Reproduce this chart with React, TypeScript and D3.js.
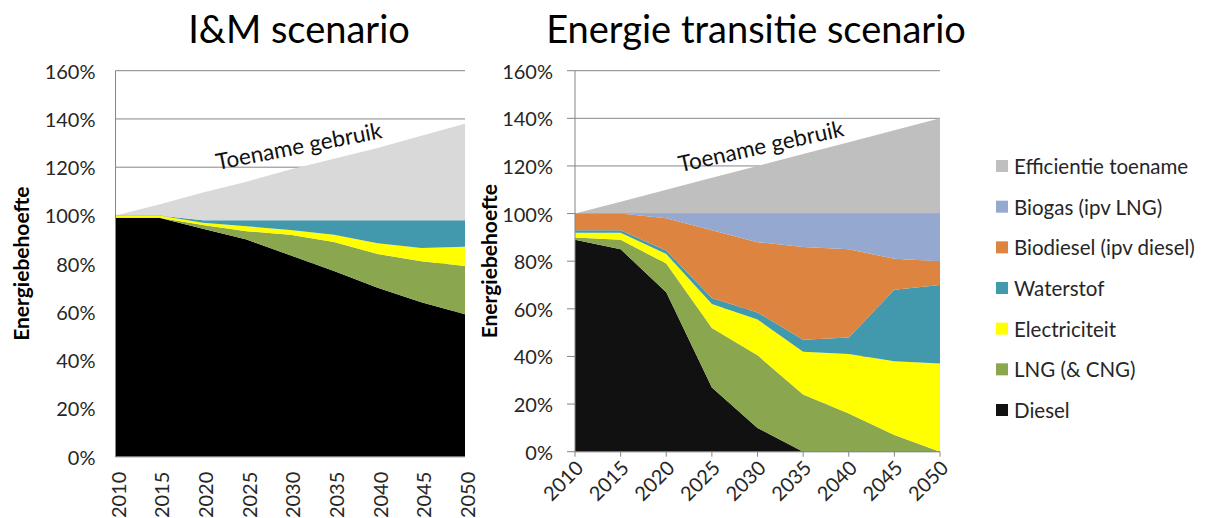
import React from 'react';
import * as d3 from 'd3';

// years on the x axis
const years = [2010, 2015, 2020, 2025, 2030, 2035, 2040, 2045, 2050];
const yTicks = [0, 20, 40, 60, 80, 100, 120, 140, 160];

const seriesKeys = ['diesel', 'lng', 'elec', 'waterstof', 'biodiesel', 'biogas', 'eff'];
const seriesNames = {
  eff: 'Efficientie toename',
  biogas: 'Biogas (ipv LNG)',
  biodiesel: 'Biodiesel (ipv diesel)',
  waterstof: 'Waterstof',
  elec: 'Electriciteit',
  lng: 'LNG (& CNG)',
  diesel: 'Diesel'
};
const legendOrder = ['eff', 'biogas', 'biodiesel', 'waterstof', 'elec', 'lng', 'diesel'];

// I&M scenario (percent of 2010 energy demand)
const imDiesel = [99, 99, 94.5, 90, 83.5, 77, 70, 64, 59];
const imLng = [0, 0, 1.5, 3.5, 8.5, 12, 14, 17, 20];
const imElec = [1, 1, 1, 2, 2, 3, 4.5, 5.5, 8];
const imWaterstof = [0, 0, 1, 2.5, 4, 6, 9.5, 11.5, 11];
const imBiodiesel = [0, 0, 0, 0, 0, 0, 0, 0, 0];
const imBiogas = [0, 0, 0, 0, 0, 0, 0, 0, 0];
const imEff = [0, 4.5, 11.5, 16, 21, 25.5, 30, 35, 40];

// Energie transitie scenario
const etDiesel = [89, 85, 67, 27, 10, 0, 0, 0, 0];
const etLng = [1, 4, 12, 25, 30.5, 24, 16, 7, 0];
const etElec = [2, 3, 4, 10, 15, 18, 25, 31, 37];
const etWaterstof = [1, 1, 1.5, 2.5, 3, 5, 7, 30, 33];
const etBiodiesel = [7, 7, 13.5, 28.5, 29.5, 39, 37, 13, 10];
const etBiogas = [0, 0, 2, 7, 12, 14, 15, 19, 20];
const etEff = [0, 5, 10, 15, 20, 25, 30, 35, 40];

const colors = {
  diesel: '#111111',
  lng: '#8aa64e',
  elec: '#ffff00',
  waterstof: '#4299ae',
  biodiesel: '#dc8440',
  biogas: '#95a8d0',
  eff: '#bfbfbf'
};

const font = 'Lato, "Open Sans", sans-serif';
const textColor = '#262626';
const gridColor = '#868686';

function buildRows(cols) {
  return years.map((yr, i) => {
    const row = { year: yr };
    seriesKeys.forEach(k => { row[k] = cols[k][i]; });
    return row;
  });
}

const imRows = buildRows({
  diesel: imDiesel, lng: imLng, elec: imElec, waterstof: imWaterstof,
  biodiesel: imBiodiesel, biogas: imBiogas, eff: imEff
});
const etRows = buildRows({
  diesel: etDiesel, lng: etLng, elec: etElec, waterstof: etWaterstof,
  biodiesel: etBiodiesel, biogas: etBiogas, eff: etEff
});

function Panel({ rows, left, right, bottom, top, title, titleX, variant }) {
  const x = d3.scaleLinear().domain([2010, 2050]).range([left, right]);
  const y = d3.scaleLinear().domain([0, 160]).range([bottom, top]);
  const stack = d3.stack().keys(seriesKeys);
  const layers = stack(rows);
  const area = d3
    .area()
    .x(d => x(d.data.year))
    .y0(d => y(d[0]))
    .y1(d => y(d[1]));

  const fills = variant === 'im'
    ? { ...colors, diesel: '#000000', eff: '#d9d9d9' }
    : colors;

  const tickLen = variant === 'im' ? 0 : 8;
  // label for the growth, placed along the top of the grey area
  const lx = variant === 'im' ? x(2030) + 10 : x(2030) + 5;
  const ly = variant === 'im' ? y(125.5) : y(125);
  const angle = variant === 'im' ? -11 : -12.5;

  return (
    <g>
      <text x={titleX} y={43} textAnchor="middle" fontSize={38} fill="#000" fontFamily={font}>
        {title}
      </text>
      {yTicks.map(t => (
        <line key={'g' + t} x1={left - tickLen} x2={right} y1={y(t)} y2={y(t)} stroke={gridColor} strokeWidth={1} />
      ))}
      {layers.map(layer => (
        <path key={layer.key} d={area(layer)} fill={fills[layer.key]} stroke="none" />
      ))}
      <line x1={left} x2={left} y1={top} y2={bottom} stroke={gridColor} strokeWidth={1} />
      <line x1={left} x2={right} y1={bottom} y2={bottom} stroke={gridColor} strokeWidth={1} />
      {yTicks.map(t => (
        <text
          key={'t' + t}
          x={left - (variant === 'im' ? 20 : 22)}
          y={y(t)}
          textAnchor="end"
          dominantBaseline="central"
          fontSize={20}
          fill={textColor}
          fontFamily={font}
        >
          {t + '%'}
        </text>
      ))}
      {variant !== 'im' && years.map(yr => (
        <line key={'xt' + yr} x1={x(yr)} x2={x(yr)} y1={bottom} y2={bottom + 5} stroke={gridColor} strokeWidth={1} />
      ))}
      {years.map(yr => (
        variant === 'im' ? (
          <text
            key={'x' + yr}
            transform={`translate(${x(yr) + 2},${bottom + 15}) rotate(-90)`}
            textAnchor="end"
            dominantBaseline="central"
            fontSize={20}
            fill={textColor}
            fontFamily={font}
          >
            {yr}
          </text>
        ) : (
          <text
            key={'x' + yr}
            transform={`translate(${x(yr) + 4},${bottom + 12}) rotate(-45)`}
            textAnchor="end"
            dominantBaseline="central"
            fontSize={20}
            fill={textColor}
            fontFamily={font}
          >
            {yr}
          </text>
        )
      ))}
      <text
        transform={`translate(${variant === 'im' ? 20 : 488},${(top + bottom) / 2}) rotate(-90)`}
        textAnchor="middle"
        dominantBaseline="central"
        fontSize={21}
        fontWeight="bold"
        fill="#000"
        fontFamily={font}
      >
        Energiebehoefte
      </text>
      <text
        transform={`translate(${lx},${ly}) rotate(${angle})`}
        textAnchor="middle"
        fontSize={22.5}
        fill="#111"
        fontFamily={font}
      >
        Toename gebruik
      </text>
    </g>
  );
}

function Legend() {
  const rowY = d3.scalePoint().domain(legendOrder).range([166, 410]);
  return (
    <g>
      {legendOrder.map(k => (
        <g key={k} transform={`translate(996,${rowY(k)})`}>
          <rect x={0} y={-6} width={12} height={12} fill={colors[k]} />
          <text x={18} y={0} dominantBaseline="central" fontSize={20.5} fill={textColor} fontFamily={font}>
            {seriesNames[k]}
          </text>
        </g>
      ))}
    </g>
  );
}

export default function App() {
  return (
    <svg width={1210} height={518} style={{ position: 'absolute', left: 0, top: 0, background: '#fff' }}>
      <rect width={1210} height={518} fill="#fff" />
      <Panel
        rows={imRows}
        left={115.5}
        right={465}
        bottom={456.7}
        top={70.7}
        title="I&M scenario"
        titleX={299}
        variant="im"
      />
      <Panel
        rows={etRows}
        left={575}
        right={940}
        bottom={451.7}
        top={70.7}
        title="Energie transitie scenario"
        titleX={756}
        variant="et"
      />
      <Legend />
    </svg>
  );
}
